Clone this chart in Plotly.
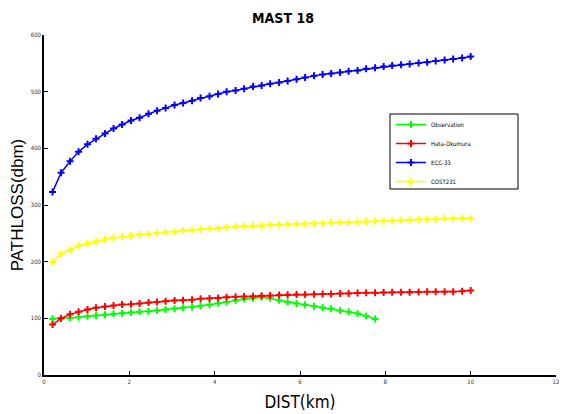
import plotly.graph_objects as go

# Distance from the mast (km), 49 sample points
dist_km = [0.20, 0.40, 0.61, 0.81, 1.02, 1.22, 1.43, 1.63, 1.83, 2.04,
           2.24, 2.45, 2.65, 2.85, 3.06, 3.26, 3.47, 3.67, 3.88, 4.08,
           4.28, 4.49, 4.69, 4.90, 5.10, 5.30, 5.51, 5.71, 5.92, 6.12,
           6.33, 6.53, 6.73, 6.94, 7.14, 7.35, 7.55, 7.76, 7.96, 8.16,
           8.37, 8.57, 8.78, 8.98, 9.18, 9.39, 9.59, 9.80, 10.00]

# Measured path loss (first 38 distances)
observation = [99.2, 99.8, 101, 102, 103.5, 105, 106.5, 108, 109, 110.5,
               111.5, 112.5, 114, 115.5, 117, 118.5, 120, 122, 124, 126.5,
               129, 131.5, 134, 136, 137, 135.5, 132, 129, 126, 124,
               121.5, 119, 117, 114, 111.5, 108.5, 104, 99]

hata_okumura = [89, 100, 107, 111.5, 115.5, 118.5, 121, 122.5, 124.5, 125,
                126, 128, 129, 130, 131.5, 132, 133, 134.5, 135, 136,
                137, 138, 138.5, 139, 140, 140.5, 141, 141.5, 142, 142,
                142.5, 143, 143, 144, 144, 144.5, 145, 145, 145.5, 146,
                146, 146, 146.5, 147, 147, 147, 147, 148, 149]

ecc33 = [323, 357, 377, 394, 407, 417, 426, 435, 442, 449,
         454, 461, 466.5, 471, 476.5, 480, 484, 489, 492, 496,
         500, 502, 505, 509, 511, 514, 516, 519, 522, 525,
         528, 530.5, 532, 534, 536, 537.5, 540.5, 542, 544.5, 546,
         547.5, 549, 550.5, 552, 554, 556, 557.5, 559.5, 562]

cost231 = [199.5, 214, 221, 228, 232, 236, 239, 242, 244, 246,
           248, 249, 250.5, 252, 253, 255, 256, 257, 258, 259,
           261, 262, 263, 263.5, 264, 264.5, 265, 266, 266.5, 267,
           267.5, 268, 269, 269.5, 269.5, 270.5, 271, 271.5, 271.5, 272,
           273, 274, 274.5, 274.5, 275, 276, 276.5, 276.5, 276.5]

x_ticks = [0, 2, 4, 6, 8, 10, 12]
y_ticks = [0, 100, 200, 300, 400, 500, 600]

NARROW = "DejaVu Sans Condensed, Liberation Sans Narrow, Liberation Sans, Arial"
W, H = 566, 414
L, R, T, B = 44, 10, 35, 39
PW, PH = W - L - R, H - T - B

series = [
    ("Observation", observation, "#00ff00"),
    ("Hata-Okumura", hata_okumura, "#ff0000"),
    ("ECC-33", ecc33, "#0000ff"),
    ("COST231", cost231, "#ffff00"),
]

fig = go.Figure()
for name, vals, color in series:
    fig.add_trace(go.Scatter(
        x=dist_km[:len(vals)], y=vals, name=name,
        mode="lines+markers",
        line=dict(color=color, width=1.5),
        marker=dict(symbol="cross-thin", size=5, color=color,
                    line=dict(color=color, width=2)),
    ))

axis_common = dict(
    showgrid=False, zeroline=False, showline=True, automargin=False,
    linecolor="black", linewidth=1.5,
    ticks="inside", ticklen=4, tickwidth=1.2, tickcolor="black",
    tickfont=dict(family=NARROW, size=6, color="#333"),
)


def px_x(px):
    return (px - L) / PW


def px_y(py):
    return (H - B - py) / PH


# Legend frame drawn as a fixed-size box behind the legend entries
fig.add_shape(type="rect", xref="paper", yref="paper", layer="below",
              x0=px_x(390), x1=px_x(518), y0=px_y(189), y1=px_y(114),
              line=dict(color="black", width=1), fillcolor="white")

fig.update_layout(
    width=W, height=H,
    margin=dict(l=L, r=R, t=T, b=B),
    paper_bgcolor="white", plot_bgcolor="white",
    title=dict(text="<b>MAST 18</b>", x=283 / W, xanchor="center",
               y=1 - 18 / H, yanchor="middle",
               font=dict(family=NARROW, size=14, color="black")),
    xaxis=dict(range=[0, 12], tickvals=x_ticks,
               title=dict(text="DIST(km)", standoff=12,
                          font=dict(family=NARROW, size=17, color="black")),
               **axis_common),
    yaxis=dict(range=[0, 600], tickvals=y_ticks,
               title=dict(text="PATHLOSS(dbm)", standoff=3,
                          font=dict(family="Liberation Sans, Arial", size=17,
                                    color="black")),
               **axis_common),
    legend=dict(x=px_x(391), y=px_y(110), xanchor="left",
                yanchor="top", bgcolor="rgba(0,0,0,0)", borderwidth=0,
                font=dict(family=NARROW, size=6, color="black"),
                itemwidth=30),
    showlegend=True,
)

fig.write_html("out.html")
